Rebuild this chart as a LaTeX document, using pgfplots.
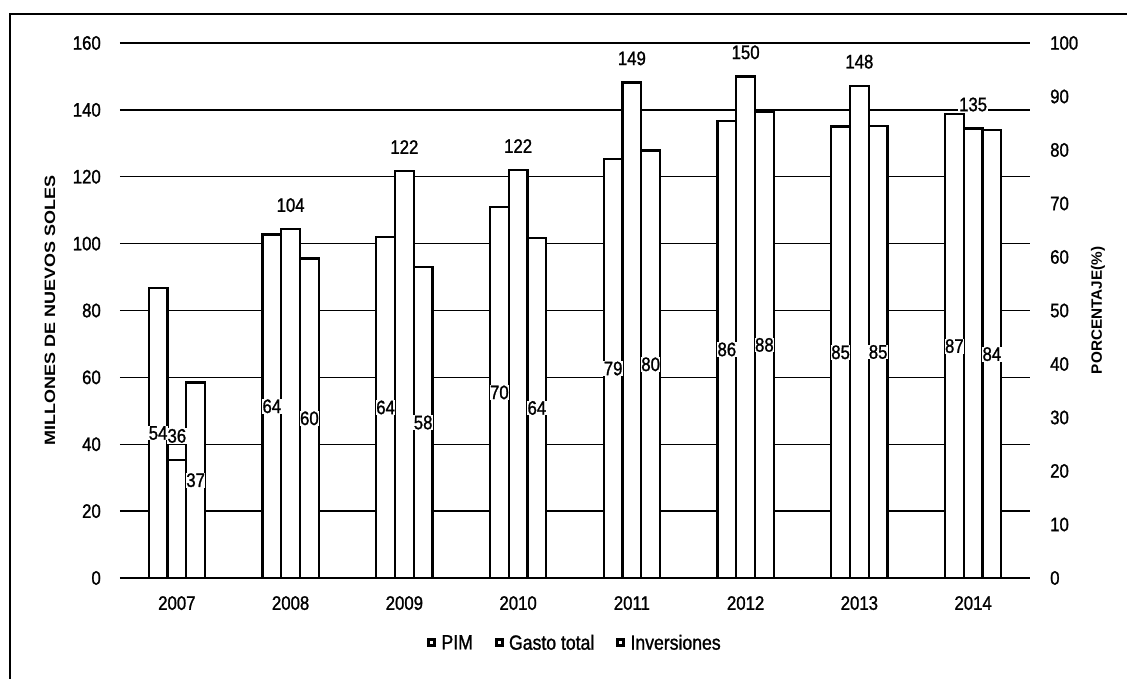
\documentclass[border=0pt]{standalone}
\usepackage{pgfplots}
\pgfplotsset{compat=1.18}
\usepackage{fontspec}
\setmainfont{Liberation Sans}[FakeStretch=0.86, FakeBold=1.2]
\newfontfamily\ylabfont{Liberation Sans Bold}[FakeStretch=1.2]
\newfontfamily\rlabfont{Liberation Sans Bold}[FakeStretch=1.02]
\newcommand{\tf}{\fontsize{19.5}{20}\selectfont}
\pgfplotsset{
  sqlegend/.style={legend image code/.code={\draw[line width=3pt, draw=black, fill=white] (1.5pt,-3pt) rectangle (7.5pt,3pt); \path (11pt,0pt);}},
  barstyle/.style={ybar, bar width=0.165, draw=black, fill=white, line width=2.4pt},
}
\begin{document}
\begin{tikzpicture}
\useasboundingbox (-120pt,-101pt) rectangle (1007pt,578pt);
\draw[line width=1.8pt] (-110pt,-140pt) rectangle (1040pt,564pt);
\begin{axis}[
  at={(0pt,0pt)}, anchor=south west, scale only axis,
  width=910pt, height=535pt,
  xmin=-0.5, xmax=7.5, ymin=0, ymax=160,
  xtick={0,1,2,3,4,5,6,7},
  xticklabels={2007,2008,2009,2010,2011,2012,2013,2014},
  ytick={0,20,40,60,80,100,120,140,160},
  ymajorgrids, grid style={black, line width=1.3pt},
  axis line style={draw=none},
  major tick length=0pt,
  tick label style={font=\tf},
  /pgf/number format/assume math mode=true,
  yticklabel style={anchor=east, inner sep=0pt, xshift=-19pt},
  xticklabel style={anchor=north, inner sep=0pt, yshift=-18pt},
  ylabel={MILLONES DE NUEVOS SOLES},
  every axis y label/.style={at={(axis description cs:-0.0769,0.5)}, rotate=90, anchor=center, font=\ylabfont\fontsize{15}{16}\selectfont},
  legend columns=3,
  legend style={at={(axis description cs:0.5,0)}, anchor=center, yshift=-65pt, draw=none, fill=none,
    font=\fontsize{20.5}{21}\selectfont,
    /tikz/every even column/.append style={column sep=20pt}},
]
\addplot[barstyle, bar shift=-0.165, sqlegend] coordinates {
  (0,86.7) (1,102.7) (2,102) (3,111) (4,125.3) (5,136.7) (6,135) (7,138.7)};
\addplot[barstyle, bar shift=0, sqlegend,
  nodes near coords, point meta=explicit symbolic,
  every node near coord/.append style={font=\tf, anchor=south, inner sep=1pt, fill=white, yshift=15pt}] coordinates {
  (0,35.3)[36] (1,104.3)[104] (2,121.7)[122] (3,122)[122] (4,148.2)[149] (5,150)[150] (6,147.2)[148] (7,134.4)[135]};
\addplot[barstyle, bar shift=0.165, sqlegend] coordinates {
  (0,58.5) (1,95.5) (2,93) (3,101.7) (4,127.8) (5,139.4) (6,135.2) (7,133.9)};
\legend{PIM,Gasto total,Inversiones}
% percentage labels inside PIM bars
\addplot[draw=none, mark=none, nodes near coords, point meta=explicit symbolic,
  every node near coord/.append style={font=\tf, anchor=center, inner sep=0.5pt, fill=white}] coordinates {
  (-0.165,43.35)[54] (0.835,51.35)[64] (1.835,51)[64] (2.835,55.5)[70] (3.835,62.65)[79] (4.835,68.35)[86] (5.835,67.5)[85] (6.835,69.35)[87]};
% percentage labels inside Inversiones bars
\addplot[draw=none, mark=none, nodes near coords, point meta=explicit symbolic,
  every node near coord/.append style={font=\tf, anchor=center, inner sep=0.5pt, fill=white}] coordinates {
  (0.165,29.25)[37] (1.165,47.75)[60] (2.165,46.5)[58] (3.165,50.85)[64] (4.165,63.9)[80] (5.165,69.7)[88] (6.165,67.6)[85] (7.165,66.95)[84]};
\end{axis}
\begin{axis}[
  at={(0pt,0pt)}, anchor=south west, scale only axis,
  width=910pt, height=535pt,
  xmin=-0.5, xmax=7.5, ymin=0, ymax=100,
  ytick={0,10,20,30,40,50,60,70,80,90,100},
  hide x axis, yticklabel pos=right,
  axis line style={draw=none},
  major tick length=0pt,
  /pgf/number format/assume math mode=true,
  yticklabel style={font=\tf, anchor=west, inner sep=0pt, xshift=20pt},
  ylabel={PORCENTAJE(\%)},
  every axis y label/.style={at={(axis description cs:1.0747,0.5)}, rotate=90, anchor=center, font=\rlabfont\fontsize{15}{16}\selectfont},
]
\addplot[draw=none, mark=none] coordinates {(0,0) (7,0)};
\end{axis}
\end{tikzpicture}
\end{document}
